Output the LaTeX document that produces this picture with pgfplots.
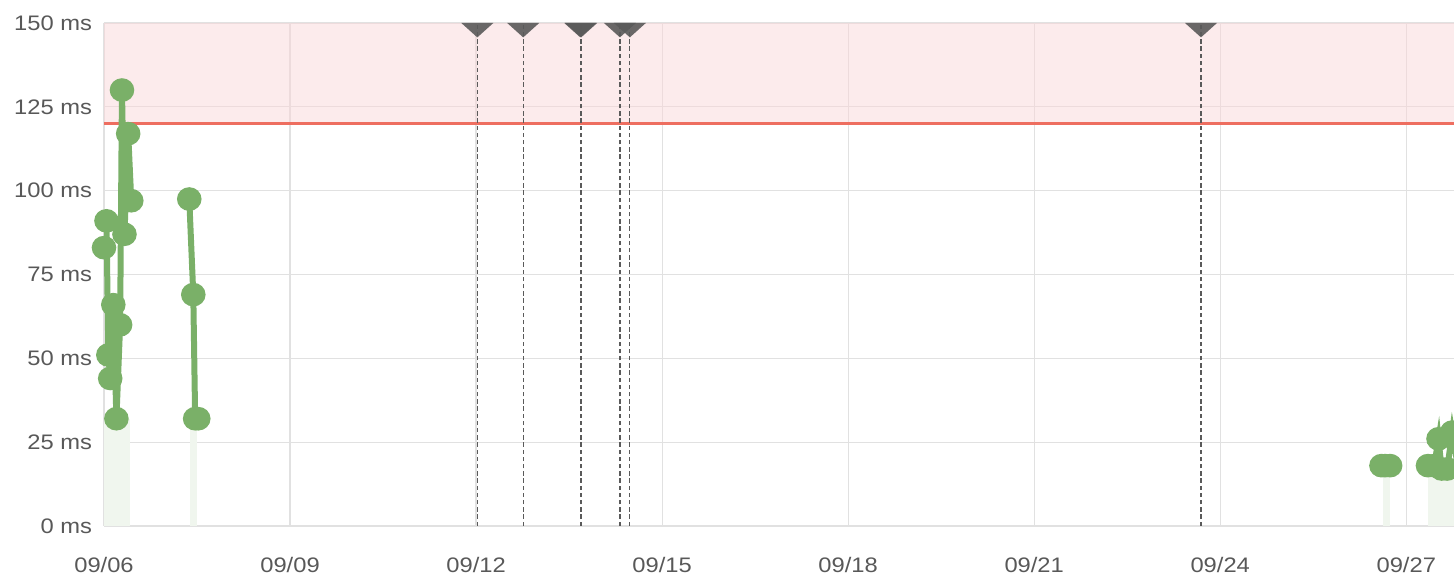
\documentclass[border=0pt]{standalone}
\usepackage{fontspec}
\setmainfont{Liberation Sans}[FakeStretch=1.13]
\usepackage{pgfplots}
\usepackage{pgfplotstable}
\pgfplotsset{compat=1.18}
\definecolor{gline}{RGB}{122,176,104}
\definecolor{gfaint}{RGB}{240,246,238}
\definecolor{bandpink}{RGB}{249,215,217}
\definecolor{redline}{RGB}{238,110,96}
\definecolor{trigray}{RGB}{90,90,90}
\definecolor{txtgray}{RGB}{88,88,88}
\definecolor{gridgray}{RGB}{225,225,225}
\pgfdeclareplotmark{dtri}{%
  \pgfpathmoveto{\pgfqpoint{-8pt}{0pt}}%
  \pgfpathlineto{\pgfqpoint{8pt}{0pt}}%
  \pgfpathlineto{\pgfqpoint{0pt}{-7.2pt}}%
  \pgfpathclose
  \pgfusepathqfill}
\pgfplotstableread{
x y
0.00 83
0.04 91
0.07 51
0.10 44
0.15 66
0.20 32
0.26 60
0.29 130
0.33 87
0.39 117
0.44 97
}\gA
\pgfplotstableread{
x y
1.375 97.5
1.44 69
1.47 32
1.52 32
}\gB
\pgfplotstableread{
x y
20.60 18
20.66 18
20.74 18
}\gC
\pgfplotstableread{
x y
21.35 18
21.45 18
21.52 26
21.57 17
21.66 17
21.74 28
21.82 19
}\gD
\pgfplotstableread{
x y
6.02 150
6.76 150
7.68 150
7.695 150
8.32 150
8.48 150
17.69 150
}\ann
\begin{document}
\begin{tikzpicture}
\path[use as bounding box] (0,0) rectangle (727pt,288.5pt);
\begin{axis}[
  at={(52pt,25.5pt)}, anchor=south west,
  width=675pt, height=251.5pt, scale only axis,
  xmin=0, xmax=21.77, ymin=0, ymax=150,
  axis line style={draw=none},
  major tick length=0pt,
  xtick={0,3,6,9,12,15,18,21},
  xticklabels={09/06,09/09,09/12,09/15,09/18,09/21,09/24,09/27},
  ytick={0,25,50,75,100,125,150},
  yticklabels={0 ms,25 ms,50 ms,75 ms,100 ms,125 ms,150 ms},
  xmajorgrids, ymajorgrids,
  major grid style={gridgray, line width=0.6pt},
  tick label style={font=\fontsize{10.5}{12}\selectfont, text=txtgray},
  xticklabel style={yshift=-12pt},
  yticklabel style={xshift=-2.5pt},
]
\addplot[draw=none, fill=bandpink, fill opacity=0.5] coordinates {(0,120)(22,120)(22,150)(0,150)} -- cycle;
\addplot[redline, line width=1.5pt] coordinates {(0,120)(22,120)};
\addplot[draw=none, fill=gfaint] coordinates {(0,32)(0.42,32)} \closedcycle;
\addplot[draw=none, fill=gfaint] coordinates {(1.39,31)(1.50,31)} \closedcycle;
\addplot[draw=none, fill=gfaint] coordinates {(20.63,18)(20.74,18)} \closedcycle;
\addplot[draw=none, fill=gfaint] coordinates {(21.35,17)(21.77,17)} \closedcycle;
\addplot[ycomb, mark=none, trigray, line width=0.6pt, dash pattern=on 2.2pt off 1.4pt] table {\ann};
\addplot[only marks, mark=dtri, color=trigray, opacity=0.9] table {\ann};
\addplot[gline, line width=3pt, mark=*, mark size=4.4pt, mark options={xscale=1.05, draw=gline, fill=gline}] table {\gA};
\addplot[gline, line width=3pt, mark=*, mark size=4.4pt, mark options={xscale=1.05, draw=gline, fill=gline}] table {\gB};
\addplot[gline, line width=3pt, mark=*, mark size=4.4pt, mark options={xscale=1.05, draw=gline, fill=gline}] table {\gC};
\addplot[gline, line width=3pt, mark=*, mark size=4.4pt, mark options={xscale=1.05, draw=gline, fill=gline}] table {\gD};
\end{axis}
\end{tikzpicture}
\end{document}
